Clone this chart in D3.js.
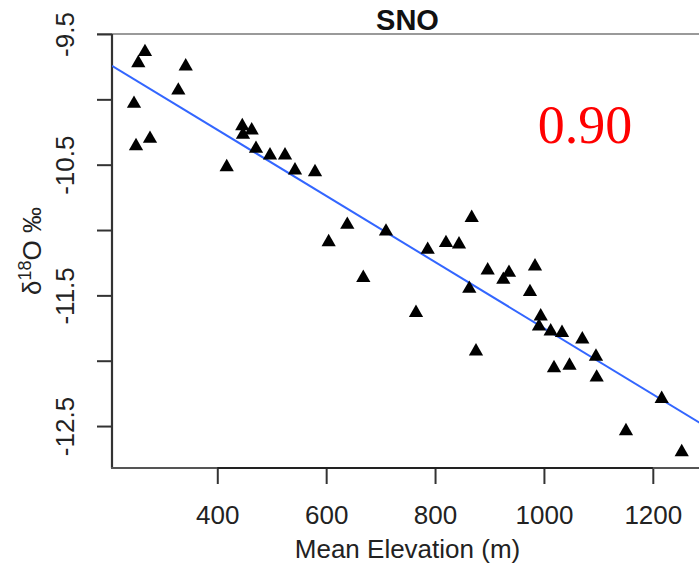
<!DOCTYPE html>
<html>
<head>
<meta charset="utf-8">
<script src="https://cdn.jsdelivr.net/npm/d3@7"></script>
<style>
html,body{margin:0;padding:0;background:#fff;}
svg{display:block;}
text{font-family:"Liberation Sans",Arial,Helvetica,sans-serif;}
</style>
</head>
<body>
<svg id="chart" width="699" height="564"></svg>
<script>
// ---- data ----
const title = "SNO";
const corrLabel = "0.90";
const xTitle = "Mean Elevation (m)";
const elevation = [267.2,254.9,342.0,328.4,247.0,250.7,276.4,445.9,463.2,447.2,471.1,496.8,524.4,542.7,579.5,417.3,
  638.8,604.6,709.9,668.2,765.0,786.5,820.1,844.0,867.3,896.7,935.8,925.4,983.6,974.4,862.9,994.1,990.9,1012.4,
  1033.2,1070.5,1095.6,875.2,1018.5,1047.0,1096.9,1216.3,1150.7,1253.1];
const d18O = [-9.622,-9.707,-9.732,-9.916,-10.018,-10.342,-10.286,-10.189,-10.222,-10.255,-10.362,-10.413,-10.413,-10.528,-10.541,-10.503,
  -10.944,-11.077,-10.995,-11.350,-11.618,-11.135,-11.084,-11.094,-10.891,-11.293,-11.311,-11.365,-11.262,-11.459,-11.434,-11.645,-11.722,-11.760,
  -11.771,-11.821,-11.953,-11.913,-12.041,-12.022,-12.113,-12.276,-12.523,-12.684];
const fitX = [206.6, 1300];
const fitY = [-9.743, -12.510];
const xTicks = [400, 600, 800, 1000, 1200];
const yTicks = [-9.5, -10, -10.5, -11, -11.5, -12, -12.5];
const yLabelTicks = [-9.5, -10.5, -11.5, -12.5];

// ---- layout ----
const L = 112, R = 703, T = 34, B = 468;
const svg = d3.select("#chart");
const x = d3.scaleLinear().domain([206.6, 1292.2]).range([L, R]);
const y = d3.scaleLinear().domain([-12.821, -9.5]).range([B, T]);

// top frame line
svg.append("line").attr("x1", 97).attr("x2", 699).attr("y1", T).attr("y2", T)
  .attr("stroke", "#9a9a9a").attr("stroke-width", 2.2);

// y axis
const yAxis = d3.axisLeft(y).tickValues(yTicks).tickSize(15)
  .tickFormat(d => yLabelTicks.includes(d) ? String(d) : "");
const gy = svg.append("g").attr("transform", `translate(${L},0)`).call(yAxis);
gy.select(".domain").remove();
gy.selectAll(".tick line").attr("stroke", "#333").attr("stroke-width", 2);
gy.selectAll(".tick text")
  .attr("font-size", 26).attr("fill", "#222")
  .attr("text-anchor", "middle")
  .attr("x", null).attr("dy", null)
  .attr("transform", "translate(-38,0) rotate(-90)")
  .attr("y", 0);

// x axis
const xAxis = d3.axisBottom(x).tickValues(xTicks).tickSize(16).tickPadding(22)
  .tickFormat(d3.format("d"));
const gx = svg.append("g").attr("transform", `translate(0,${B})`).call(xAxis);
gx.select(".domain").remove();
gx.selectAll(".tick line").attr("stroke", "#333").attr("stroke-width", 2);
gx.selectAll(".tick text").attr("font-size", 26).attr("fill", "#222");

// box L-lines
svg.append("line").attr("x1", L).attr("x2", L).attr("y1", T).attr("y2", B)
  .attr("stroke", "#333").attr("stroke-width", 2.2);
svg.append("line").attr("x1", L - 1).attr("x2", 699).attr("y1", B).attr("y2", B)
  .attr("stroke", "#555").attr("stroke-width", 2.2);
svg.append("line").attr("x1", x(xTicks[0])).attr("x2", x(xTicks[xTicks.length - 1])).attr("y1", B).attr("y2", B)
  .attr("stroke", "#222").attr("stroke-width", 2.2);

// clip for plot area
svg.append("clipPath").attr("id", "plotclip").append("rect")
  .attr("x", L).attr("y", T).attr("width", R - L).attr("height", B - T);

// regression line
svg.append("path")
  .attr("clip-path", "url(#plotclip)")
  .attr("d", d3.line()(fitX.map((v, i) => [x(v), y(fitY[i])])))
  .attr("stroke", "#3366ff").attr("stroke-width", 2).attr("fill", "none");

// points
const sym = d3.symbol().type(d3.symbolTriangle).size(88);
svg.append("g").selectAll("path").data(elevation).join("path")
  .attr("d", sym)
  .attr("transform", (d, i) => `translate(${x(d)},${y(d18O[i]) + 2})`)
  .attr("fill", "#000");

// title
svg.append("text").attr("x", (L + R) / 2).attr("y", 30).attr("text-anchor", "middle")
  .attr("font-size", 29).attr("font-weight", "bold").attr("fill", "#111").text(title);

// x title
svg.append("text").attr("x", (L + R) / 2).attr("y", 558).attr("text-anchor", "middle")
  .attr("font-size", 26).attr("fill", "#222").text(xTitle);

// y title
const yt = svg.append("text").attr("transform", `translate(41,${(T + B) / 2}) rotate(-90)`)
  .attr("text-anchor", "middle").attr("font-size", 26).attr("fill", "#222");
yt.append("tspan").text("δ");
yt.append("tspan").attr("font-size", 18).attr("dy", -10).text("18");
yt.append("tspan").attr("dy", 10).text("O ‰");

// correlation label
svg.append("text").attr("x", 585).attr("y", 143).attr("text-anchor", "middle")
  .style("font-family", "'Liberation Serif','Times New Roman',serif")
  .attr("font-size", 54).attr("fill", "#ff0000").text(corrLabel);
</script>
</body>
</html>
